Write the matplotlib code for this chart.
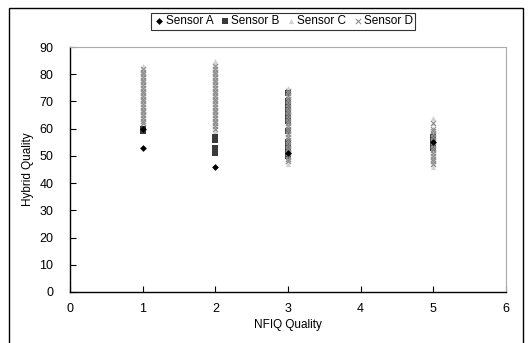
import matplotlib
matplotlib.use("Agg")
import matplotlib.pyplot as plt
from matplotlib.patches import Rectangle

plt.rcParams['font.family'] = ['Liberation Sans', 'DejaVu Sans']

# NFIQ quality -> hybrid quality values per sensor
a_x = [1, 1, 2, 3, 5]
a_y = [53, 60, 46, 51, 55]

b_x = [1, 1,
       2, 2, 2, 2, 2,
       3, 3, 3, 3, 3, 3, 3, 3, 3, 3, 3, 3,
       5, 5, 5, 5, 5]
b_y = [59, 60,
       51, 52, 53, 56, 57,
       50, 52, 53, 54, 55, 59, 63, 64, 66, 68, 70, 73,
       53, 54, 55, 56, 57]

c_x = [1]*23 + [2]*28 + [3]*28 + [5]*17
c_y = [61, 62, 63, 64, 65, 66, 67, 68, 69, 70, 71, 72, 73, 74, 75, 76, 77, 78, 79, 80, 81, 82, 83,
       58, 59, 60, 61, 62, 63, 64, 65, 66, 67, 68, 69, 70, 71, 72, 73, 74, 75, 76, 77, 78, 79, 80, 81, 82, 83, 84, 85,
       47, 48, 49, 50, 51, 52, 53, 54, 55, 56, 57, 58, 59, 60, 61, 62, 63, 64, 65, 66, 67, 68, 69, 70, 71, 72, 73, 75,
       46, 47, 48, 49, 50, 51, 52, 53, 54, 55, 56, 57, 58, 59, 60, 62, 64]

d_x = [1]*21 + [2]*24 + [3]*27 + [5]*15
d_y = [62, 63, 64, 65, 66, 67, 68, 69, 70, 71, 72, 73, 74, 75, 76, 77, 78, 79, 80, 81, 82,
       60, 61, 62, 63, 64, 65, 66, 67, 68, 69, 70, 71, 72, 73, 74, 75, 76, 77, 78, 79, 80, 81, 82, 83,
       48, 49, 50, 51, 52, 53, 54, 55, 56, 57, 58, 59, 60, 61, 62, 63, 64, 65, 66, 67, 68, 69, 70, 71, 72, 73, 74,
       47, 48, 49, 50, 51, 52, 53, 54, 55, 56, 57, 58, 59, 60, 62]

x_ticks = [0, 1, 2, 3, 4, 5, 6]
y_ticks = [0, 10, 20, 30, 40, 50, 60, 70, 80, 90]

W, H = 531, 343
fig = plt.figure(figsize=(W/100, H/100), dpi=100)
ax = fig.add_axes([70/W, 1-292/H, (506-70)/W, (292-47)/H])

ax.scatter(c_x, c_y, marker='^', s=14, color='#d2d2d2', linewidths=0, label='Sensor C', zorder=2)
ax.scatter(b_x, b_y, marker='s', s=14, color='#3a3a3a', linewidths=0, label='Sensor B', zorder=3)
ax.scatter(d_x, d_y, marker='x', s=14, color='#8f8f8f', linewidths=0.8, label='Sensor D', zorder=4)
ax.scatter(a_x, a_y, marker='D', s=12, color='black', linewidths=0, label='Sensor A', zorder=5)

ax.set_xlim(0, 6)
ax.set_ylim(0, 90)
ax.set_xticks(x_ticks)
ax.set_yticks(y_ticks)
ax.tick_params(direction='in', length=4, labelsize=9, width=0.8)
ax.tick_params(axis='x', pad=8)
ax.tick_params(axis='y', pad=12)
ax.spines['top'].set_color('#aaaaaa')
ax.spines['top'].set_linestyle((0, (2, 1)))
ax.spines['right'].set_color('#aaaaaa')
ax.spines['right'].set_linestyle((0, (2, 1)))
ax.spines['left'].set_linewidth(1.0)
ax.spines['bottom'].set_linewidth(1.0)

ax.set_xlabel('NFIQ Quality', fontsize=8.5, labelpad=3)
ax.set_ylabel('Hybrid Quality', fontsize=8.5, labelpad=4)

handles, labels = ax.get_legend_handles_labels()
order = [labels.index(n) for n in ['Sensor A', 'Sensor B', 'Sensor C', 'Sensor D']]
leg = fig.legend([handles[i] for i in order], [labels[i] for i in order],
                 loc='upper center', bbox_to_anchor=(283/W, 1-7/H), ncol=4,
                 fontsize=8.5, frameon=True, fancybox=False, edgecolor='black',
                 handletextpad=0.0, columnspacing=0.4, borderpad=0.2,
                 handlelength=1.1, markerscale=1.0)
leg.get_frame().set_linewidth(0.8)

fig.patches.append(Rectangle((9/W, -0.1), (523-9)/W, 1.1-8/H, transform=fig.transFigure,
                             fill=False, edgecolor='black', linewidth=1.0, zorder=0))

fig.savefig('out.png', dpi=100)
